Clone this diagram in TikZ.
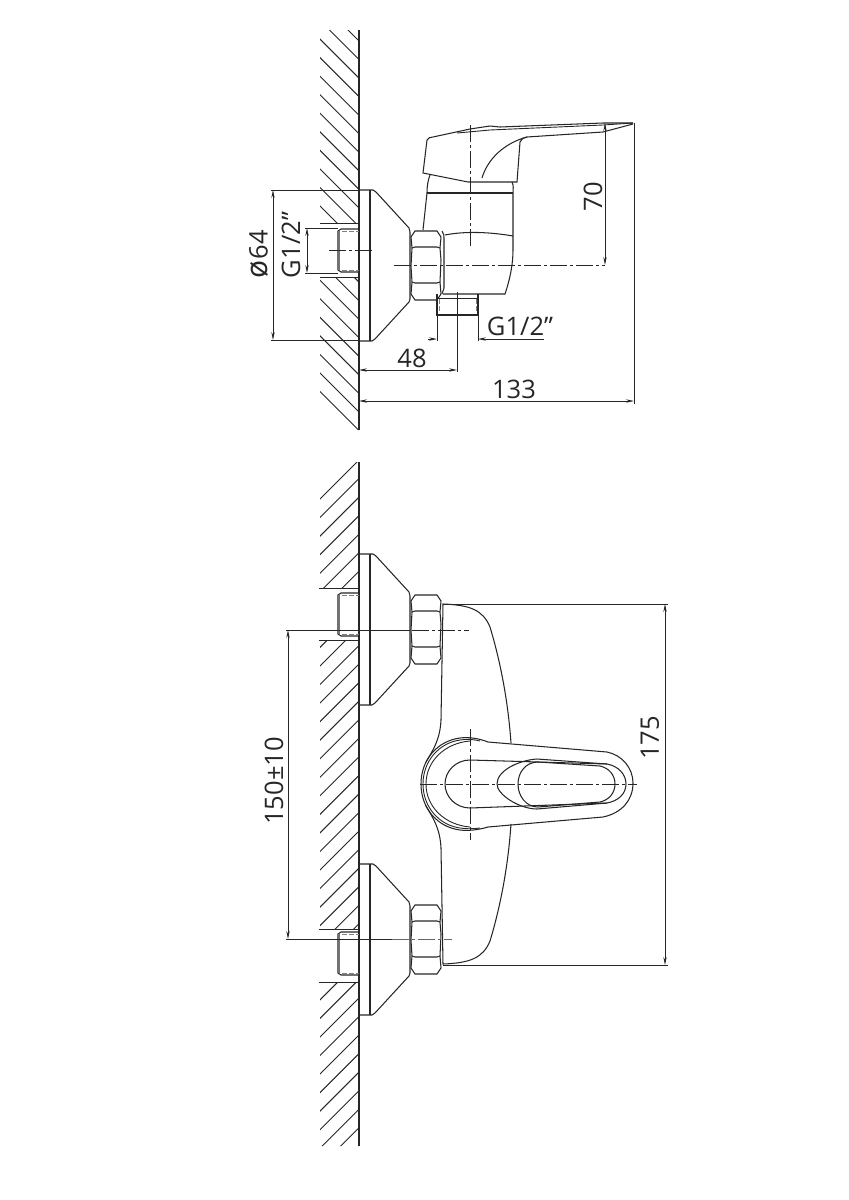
\documentclass[tikz,border=0pt]{standalone}
\usepackage{fontspec}
\setmainfont{Open Sans}
\usetikzlibrary{arrows.meta}

\tikzset{
  dimline/.style={line width=.9pt,{Stealth[length=8pt,width=3.4pt]}-{Stealth[length=8pt,width=3.4pt]}},
  dimtip/.style={line width=.9pt,-{Stealth[length=8pt,width=3.4pt]}},
  thinline/.style={line width=.9pt},
  axisline/.style={line width=.9pt,dash pattern=on 17pt off 3pt on 3pt off 3pt},
  hatchline/.style={line width=.95pt},
  wall/.style={line width=1.5pt},
  hiddenline/.style={line width=.7pt,black!50,dash pattern=on 5pt off 2pt},
  label/.style={inner sep=0pt,font=\fontsize{25.5}{30}\selectfont,text=black!85},
  flange/.pic={
    \draw (0,0) -- (14,0) -- (17,2) -- (50,38) -- (51,42) -- (51,109) -- (50,112) -- (16,149) -- (13,151) -- (0,151);
    \draw (11,0) -- (11,151);
    % nut
    \draw (56,41) -- (78,41) -- (82,47) -- (81,58) -- (82,70) -- (81,92) -- (82,104) -- (78,110) -- (56,110) -- (52,104) -- (53,92) -- (52,76) -- (53,58) -- (52,47) -- cycle;
    \draw (53,58) -- (56,57) -- (78,57) -- (81,58);
    \draw (53,92) -- (56,93) -- (78,93) -- (81,92);
  },
  stub/.pic={
    \draw (0,0) -- (-18,0) -- (-21,2) -- (-21,41) -- (-18,43) -- (0,43);
    \draw[line width=2.4pt,black!55] (-20,2) -- (-20,41);
    \draw[hiddenline] (-17,2) -- (0,2);
    \draw[hiddenline] (-17,41) -- (0,41);
  },
}

\begin{document}
\begin{tikzpicture}[x=1pt,y=-1pt,line width=1.05pt,color=black!85]
  \useasboundingbox (0,0) rectangle (849,1200);

  % wall, side view
  \begin{scope}
    \clip (320,30) rectangle (359,223) (320,277) rectangle (359,430);
    \foreach \ya in {0,...,21} {
      \draw[hatchline] (359,41+18.55*\ya) -- (319,1+18.55*\ya);
    }
  \end{scope}
  \draw[wall] (359,30) -- (359,430);
  \draw[thinline] (320,223) -- (359,223);
  \draw[thinline] (320,277) -- (359,277);

  \pic at (359,190) {flange};
  \pic at (359,229) {stub};

  % side view, body and lever
  \draw (427,193) -- (423,230);
  \draw (430,175) .. controls (428,180) and (427,186) .. (427,193);
  \draw (427,193) -- (513,193);
  \draw (512,182) .. controls (514,186) and (513,189) .. (513,193) -- (513,250) .. controls (513,262) and (511,276) .. (505,294) -- (443,294);
  \draw (445,235) .. controls (465,231) and (490,232) .. (513,236);
  \draw (442,231) .. controls (444,233) and (444,236) .. (444,240) -- (444,288) -- (442,294);
  \draw (427,140) -- (423,173) -- (468,182) -- (517,182) -- (520,142) .. controls (521,139) and (524,137) .. (527,137) -- (603,132) -- (633,124);
  \draw (427,140) .. controls (428,138) and (430,137) .. (433,137) -- (470,129) -- (490,126) -- (500,127) -- (603,123) -- (633,123);
  \draw[thinline] (457,133) -- (490,130) -- (603,125) -- (633,123);
  \draw (527,137) .. controls (505,143) and (488,158) .. (482,178);

  % side view, stub below
  \draw (437,294) -- (437,315) -- (478,315) -- (478,294);
  \draw[hiddenline] (439,299) -- (439,312);
  \draw[hiddenline] (476,299) -- (476,312);
  \draw[thinline] (437,298) -- (478,298);

  % side view, axes
  \draw[axisline] (470,125) -- (470,249);
  \draw[axisline] (329,250) -- (374,250);
  \draw[axisline] (394,265) -- (605,265);

  % side view, dimensions
  \draw[thinline] (359,190) -- (271,190);
  \draw[thinline] (359,340) -- (271,340);
  \draw[dimline] (273,190) -- (273,340);
  \draw[thinline] (305,228) -- (338,228);
  \draw[thinline] (305,273) -- (338,273);
  \draw[dimline] (307,228) -- (307,273);
  \draw[dimline] (605,123) -- (605,265);
  \draw[thinline] (437,315) -- (437,341);
  \draw[thinline] (478,315) -- (478,341);
  \draw[dimtip] (428,339) -- (437,339);
  \draw[dimtip] (544,339) -- (478,339);
  \draw[thinline] (457,292) -- (457,372);
  \draw[dimline] (359,370) -- (457,370);
  \draw[thinline] (634,123) -- (634,404);
  \draw[dimline] (359,401) -- (634,401);

  \node[label,rotate=90] (diam) at (259,254) {{\fontsize{30}{30}\selectfont ø}\kern1pt 64};
  \node[label,rotate=90] (thrdl) at (291,245) {G1/2"};
  \node[label,rotate=90] (hgt) at (593,197) {70};
  \node[label] (thrdb) at (520,326) {G1/2"};
  \node[label] (reach) at (412,358) {48};
  \node[label] (total) at (514,389) {133};

  % wall, front view
  \begin{scope}
    \clip (320,462) rectangle (359,588) (320,640) rectangle (359,929) (320,982) rectangle (359,1146);
    \foreach \yb in {0,...,37} {
      \draw[hatchline] (359,460+18.55*\yb) -- (319,500+18.55*\yb);
    }
  \end{scope}
  \draw[wall] (359,462) -- (359,1146);
  \foreach \yc in {588,640,929,982} {
    \draw[thinline] (319,\yc) -- (359,\yc);
  }

  \pic at (359,554) {flange};
  \pic at (359,864) {flange};
  \pic at (359,593) {stub};
  \pic at (359,932) {stub};

  % front view, body
  \draw (441,720) -- (443,604) .. controls (470,605) and (483,610) .. (490,627) .. controls (500,660) and (508,700) .. (511,743);
  \draw (441,720) .. controls (440,740) and (433,750) .. (426,762);
  \draw (441,848) .. controls (440,828) and (433,818) .. (426,806);
  \draw (441,848) -- (443,964) .. controls (470,963) and (483,958) .. (490,941) .. controls (500,908) and (508,868) .. (511,824);

  % front view, lever
  \draw (488,742) -- (607,752) .. controls (622,755) and (633,768) .. (633,783) .. controls (633,800) and (622,813) .. (603,817) -- (488,827);
  \draw (488,742) .. controls (478,738) and (468,737) .. (460,738) .. controls (437,741) and (421,760) .. (421,784) .. controls (421,808) and (437,827) .. (460,830) .. controls (468,831) and (478,830) .. (488,827);
  \draw[thinline] (480,741) .. controls (472,739) and (466,739) .. (460,740) .. controls (439,743) and (423,761) .. (423,784) .. controls (423,807) and (439,825) .. (460,828) .. controls (466,829) and (472,829) .. (480,828);
  \draw[thinline] (470,741) .. controls (445,743) and (426,761) .. (426,784) .. controls (426,807) and (445,825) .. (470,827);
  \draw (607,764) -- (470,760) .. controls (456,760) and (445,771) .. (445,784) .. controls (445,797) and (456,808) .. (470,808) -- (607,803) .. controls (618,801) and (626,794) .. (626,784) .. controls (626,774) and (618,766) .. (607,764);
  \draw (607,764) -- (537,759) .. controls (520,760) and (497,770) .. (497,784) .. controls (497,795) and (520,809) .. (537,809) -- (607,803);
  \draw (600,766) -- (538,762) .. controls (526,762) and (518,772) .. (518,784) .. controls (518,796) and (526,807) .. (538,807) -- (600,802) .. controls (609,800) and (615,793) .. (615,784) .. controls (615,775) and (609,768) .. (600,766);

  % front view, axes
  \draw[axisline] (420,784) -- (637,784);
  \draw[axisline] (470,729) -- (470,840);
  \draw[thinline] (286,630) -- (410,630);
  \draw[axisline] (412,630) -- (469,630);
  \draw[thinline] (286,939) -- (392,939);
  \draw[axisline,black!60] (392,939) -- (452,939);

  % front view, dimensions
  \draw[thinline] (443,604) -- (668,604);
  \draw[thinline] (443,965) -- (668,965);
  \draw[dimline] (665,604) -- (665,965);
  \draw[dimline] (288,630) -- (288,939);

  \node[label,rotate=90] (pitch) at (274,781) {150±10};
  \node[label,rotate=90] (height) at (650,738) {175};
\end{tikzpicture}
\end{document}
